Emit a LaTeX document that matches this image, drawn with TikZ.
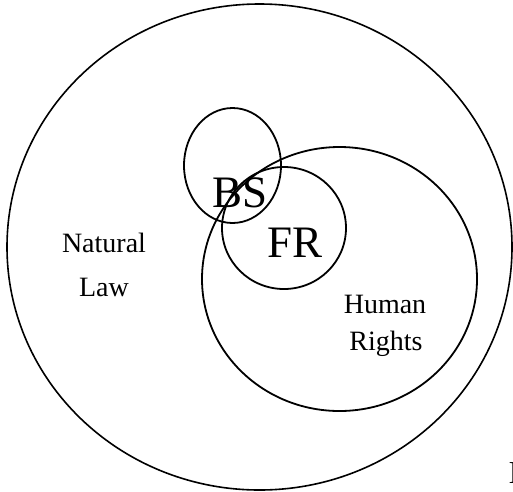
\documentclass[tikz,border=0pt]{standalone}
\usepackage{fontspec}
\setmainfont{Liberation Serif}
\begin{document}
\begin{tikzpicture}[x=1pt,y=-1pt,
  ring/.style={draw=black,line width=1.8pt},
  lbl/.style={inner sep=0pt,anchor=base,align=center},
  small/.style={font=\fontsize{28}{44}\selectfont},
  big/.style={font=\fontsize{45}{45}\selectfont}]
\useasboundingbox (0,0) rectangle (513,491);
\draw[ring,line width=1.6pt] (259.5,247) ellipse [x radius=252.5,y radius=243];
\draw[ring] (232.5,165.5) ellipse [x radius=48.5,y radius=57.5];
\draw[ring] (339.5,279) ellipse [x radius=137.5,y radius=132];
\draw[ring] (284,228) ellipse [x radius=62,y radius=61];
\node[lbl,small] (nat) at (104,252) {Natural};
\node[lbl,small] (law) at (104,296) {Law};
\node[lbl,small] (hum) at (385,313) {Human};
\node[lbl,small] (rig) at (386,350) {Rights};
\node[lbl,big] (bs) at (240,207) {BS};
\node[lbl,big] (fr) at (295,257) {FR};
\node[inner sep=0pt,anchor=base west,font=\fontsize{32}{32}\selectfont] (cut) at (508.5,483) {I};
\end{tikzpicture}
\end{document}
